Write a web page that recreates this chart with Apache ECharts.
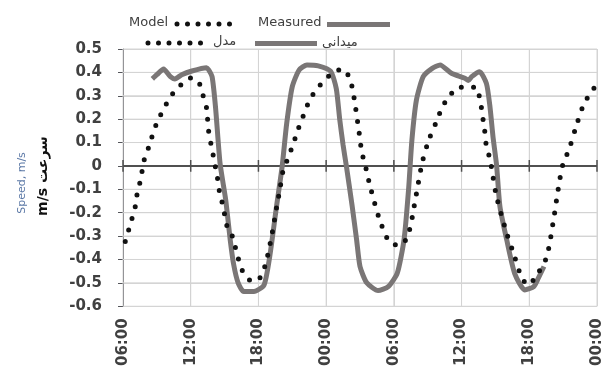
<!DOCTYPE html>
<html>
<head>
<meta charset="utf-8">
<script src="https://cdn.jsdelivr.net/npm/echarts@6/dist/echarts.min.js"></script>
<style>
  html, body { margin: 0; padding: 0; background: #fff; }
  #chart { width: 608px; height: 369px; }
</style>
</head>
<body>
<div id="chart"></div>
<script>
// Time axis: hours elapsed since 06:00 on the first day
const timeLabels = ['06:00', '12:00', '18:00', '00:00', '06:00', '12:00', '18:00', '00:00'];
const tickHours = [0, 6, 12, 18, 24, 30, 36, 42];
const speedTicks = [-0.6, -0.5, -0.4, -0.3, -0.2, -0.1, 0, 0.1, 0.2, 0.3, 0.4, 0.5];

// Model prediction (hours, speed m/s)
const modelHours = [0.2, 0.5, 0.8, 1.1, 1.25, 1.5, 1.7, 1.9, 2.3, 2.6, 2.95, 3.4, 3.9, 4.5, 5.2, 6.1, 6.8, 7.1, 7.4, 7.5, 7.6, 7.8, 8.0, 8.2, 8.4, 8.55, 8.8, 9.1, 9.35, 9.8, 10.0, 10.3, 10.7, 11.5, 12.3, 12.6, 12.9, 13.1, 13.3, 13.6, 13.9, 14.2, 14.6, 15.0, 15.35, 15.7, 16.1, 16.5, 17.1, 17.8, 18.65, 19.5, 20.1, 20.35, 20.55, 20.7, 20.85, 21.0, 21.15, 21.4, 21.6, 21.9, 22.8, 23.7, 24.6, 25.3, 25.9, 26.5, 27.1, 27.9, 28.3, 28.9, 29.7, 31.3, 31.6, 31.8, 31.95, 32.1, 32.2, 32.5, 32.7, 33.1, 34.0, 34.6, 35.3, 35.9, 36.6, 37.5, 38.1, 38.6, 39.0, 39.5, 40.1, 40.8, 41.4, 42.0];
const modelSpeed = [-0.323, -0.274, -0.224, -0.171, -0.12, -0.071, -0.02, 0.03, 0.083, 0.13, 0.178, 0.225, 0.27, 0.315, 0.349, 0.377, 0.349, 0.30, 0.249, 0.197, 0.144, 0.093, 0.044, -0.007, -0.06, -0.11, -0.16, -0.23, -0.28, -0.309, -0.359, -0.409, -0.459, -0.494, -0.47, -0.423, -0.366, -0.316, -0.266, -0.18, -0.10, -0.017, 0.03, 0.083, 0.132, 0.182, 0.229, 0.278, 0.325, 0.363, 0.40, 0.414, 0.372, 0.325, 0.268, 0.218, 0.168, 0.115, 0.061, 0.014, -0.024, -0.088, -0.238, -0.33, -0.338, -0.288, -0.145, 0.011, 0.111, 0.204, 0.253, 0.296, 0.336, 0.336, 0.289, 0.236, 0.182, 0.132, 0.083, 0.033, -0.021, -0.131, -0.288, -0.373, -0.473, -0.509, -0.47, -0.394, -0.245, -0.088, 0.011, 0.068, 0.161, 0.261, 0.31, 0.349];

// Field measurements (hours, speed m/s)
const measuredHours = [2.6, 3.0, 3.6, 4.2, 4.6, 5.2, 6.1, 7.4, 7.6, 7.9, 8.2, 8.6, 9.1, 9.5, 9.8, 10.2, 10.7, 11.6, 12.5, 13.0, 13.6, 14.1, 14.5, 15.0, 15.6, 16.3, 17.3, 18.4, 18.9, 19.2, 19.5, 19.8, 20.3, 20.7, 21.0, 21.6, 22.6, 23.5, 24.3, 24.9, 25.3, 25.6, 26.0, 26.6, 27.4, 28.1, 29.1, 30.3, 30.6, 30.9, 31.6, 32.2, 32.5, 32.8, 33.1, 33.4, 34.0, 34.7, 35.6, 36.4, 36.8, 37.3];
const measuredSpeed = [0.372, 0.39, 0.414, 0.382, 0.372, 0.39, 0.406, 0.42, 0.41, 0.38, 0.25, 0.011, -0.145, -0.316, -0.42, -0.50, -0.537, -0.537, -0.509, -0.388, -0.174, -0.003, 0.18, 0.339, 0.41, 0.432, 0.428, 0.405, 0.33, 0.20, 0.09, -0.003, -0.17, -0.316, -0.43, -0.50, -0.533, -0.516, -0.459, -0.316, -0.103, 0.111, 0.282, 0.382, 0.417, 0.432, 0.396, 0.375, 0.365, 0.382, 0.403, 0.353, 0.26, 0.118, 0.004, -0.174, -0.316, -0.459, -0.53, -0.516, -0.48, -0.43];

const pairs = (xs, ys) => xs.map((x, i) => [x, ys[i]]);

const chart = echarts.init(document.getElementById('chart'));

const labelFont = { fontFamily: 'DejaVu Sans', fontSize: 15, fontWeight: 'bold', color: '#404040' };
const axisDark = '#505050';
const gridGrey = '#d4d4d4';
const legendFont = '13px "DejaVu Sans"';
const tickHalf = 0.025; // half-length of the ticks crossing the zero line, in m/s
const xMin = 0, xMax = 42, yMin = -0.6, yMax = 0.5;

// grid lines and zero-line ticks as broken polylines ('-' splits the segments)
const hGrid = [], vGrid = [], zeroTicks = [];
speedTicks.forEach(v => { hGrid.push([xMin, v], [xMax, v], [xMax, '-']); });
tickHours.forEach(h => { vGrid.push([h, yMin], [h, yMax], [h, '-']); });
tickHours.forEach(h => { zeroTicks.push([h, -tickHalf], [h, tickHalf], [h, '-']); });

function guide(data, color, width, z) {
  return {
    type: 'line', data, z, silent: true, clip: false,
    showSymbol: false, connectNulls: false,
    emphasis: { disabled: true },
    lineStyle: { color, width }
  };
}

function txt(text, x, y) {
  return { type: 'text', style: { text, x, y, font: legendFont, fill: '#404040', textAlign: 'left', textVerticalAlign: 'middle', verticalAlign: 'middle' } };
}

chart.setOption({
  animation: false,
  grid: { left: 123, right: 11, top: 49, bottom: 62 },
  xAxis: {
    type: 'value', min: xMin, max: xMax, interval: 6,
    axisLine: { show: false, onZero: false },
    axisTick: { show: false },
    splitLine: { show: true, lineStyle: { color: gridGrey } },
    axisLabel: Object.assign({}, labelFont, {
      rotate: 90, margin: 12,
      formatter: v => timeLabels[Math.round(v / 6)]
    })
  },
  yAxis: {
    type: 'value', min: yMin, max: yMax, interval: 0.1,
    splitLine: { show: true, lineStyle: { color: gridGrey } },
    axisLabel: Object.assign({}, labelFont, {
      margin: 21,
      formatter: v => {
        const r = Math.round(v * 10) / 10;
        return r === 0 ? '0' : r.toFixed(1);
      }
    })
  },
  series: [
    guide(hGrid, gridGrey, 1, 1),
    guide(vGrid, gridGrey, 1, 1),
    guide([[xMin, 0], [xMax, 0]], axisDark, 2, 2),
    guide(zeroTicks, axisDark, 1.5, 2),
    {
      name: 'Measured', type: 'line',
      data: pairs(measuredHours, measuredSpeed),
      showSymbol: false, smooth: 0.2,
      lineStyle: { color: '#7a7676', width: 5 },
      z: 3
    },
    {
      name: 'Model', type: 'line',
      data: pairs(modelHours, modelSpeed),
      showSymbol: false, smooth: 0.3,
      lineStyle: { color: '#111', width: 5, type: [0, 12], cap: 'round' },
      z: 4
    }
  ],
  graphic: [
    // legend, first row
    txt('Model', 129, 23),
    { type: 'line', shape: { x1: 177, y1: 24, x2: 230, y2: 24 }, style: { stroke: '#111', lineWidth: 5, lineDash: [0, 10.5], lineCap: 'round' } },
    txt('Measured', 258, 23),
    { type: 'line', shape: { x1: 327, y1: 24.5, x2: 390, y2: 24.5 }, style: { stroke: '#7a7676', lineWidth: 5 } },
    // legend, second row
    { type: 'line', shape: { x1: 148, y1: 43, x2: 201, y2: 43 }, style: { stroke: '#111', lineWidth: 5, lineDash: [0, 10.5], lineCap: 'round' } },
    txt('مدل', 213, 42),
    { type: 'line', shape: { x1: 255, y1: 43.5, x2: 317, y2: 43.5 }, style: { stroke: '#7a7676', lineWidth: 5 } },
    txt('میدانی', 322, 43),
    // axis titles
    { type: 'text', x: 22, y: 183, rotation: Math.PI / 2, style: { text: 'Speed, m/s', x: 0, y: 0, font: '11px "DejaVu Sans"', fill: '#5b78a6', textAlign: 'center', textVerticalAlign: 'middle', verticalAlign: 'middle' } },
    { type: 'text', x: 43, y: 176, rotation: Math.PI / 2, style: { text: 'm/s سرعت', x: 0, y: 0, font: 'bold 14px "DejaVu Sans"', fill: '#111', textAlign: 'center', textVerticalAlign: 'middle', verticalAlign: 'middle' } }
  ]
});
</script>
</body>
</html>
